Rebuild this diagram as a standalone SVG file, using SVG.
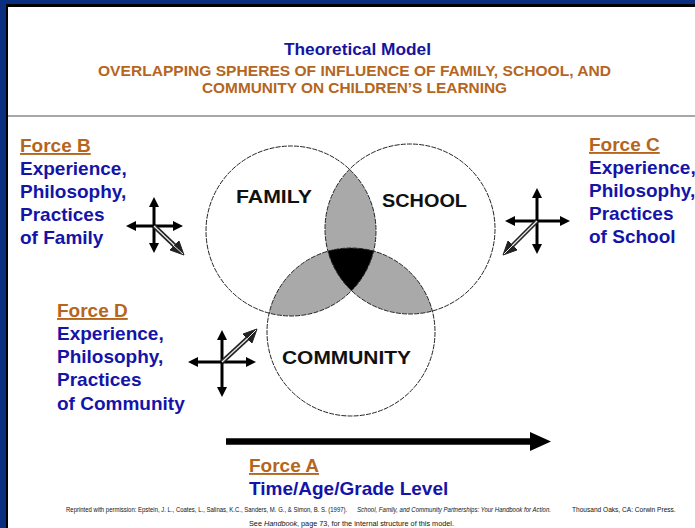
<svg xmlns="http://www.w3.org/2000/svg" width="695" height="528" viewBox="0 0 695 528">
<style>
.hd{font-family:"Liberation Sans",Arial,sans-serif;font-weight:bold}
.t1{font-size:17px;fill:#1414a0}
.t2{font-size:15px;fill:#b5661e}
.force{font-family:"Liberation Sans",Arial,sans-serif;font-weight:bold;font-size:19px;fill:#b5661e;text-decoration:underline}
.body{font-family:"Liberation Sans",Arial,sans-serif;font-weight:bold;font-size:19px;fill:#1414a8}
.lbl{font-family:"Liberation Sans",Arial,sans-serif;font-weight:bold;font-size:18px;fill:#111}
.ring{fill:none;stroke:#222;stroke-width:1;stroke-dasharray:5 1.2}
.cross{stroke:#000;stroke-width:3;fill:none;marker-start:url(#ah);marker-end:url(#ah)}
.diag{stroke:#222;stroke-width:4.5;fill:none}
.diagin{stroke:#e8e8e8;stroke-width:1.3;fill:none}
.foot{font-family:"Liberation Sans",Arial,sans-serif;font-size:7px;fill:#111}
.foot2{font-family:"Liberation Sans",Arial,sans-serif;font-size:7.3px;fill:#111}
.it{font-style:italic}
</style>
<defs>
<marker id="ah" viewBox="0 0 10 10" refX="3" refY="5" markerWidth="10" markerHeight="11" markerUnits="userSpaceOnUse" orient="auto-start-reverse">
<path d="M0,0 L10,5 L0,10 Z" fill="#000"/>
</marker>
<clipPath id="cF"><circle cx="291" cy="231" r="85"/></clipPath>
<clipPath id="cS"><circle cx="410" cy="229" r="85"/></clipPath>
<clipPath id="cC"><circle cx="351" cy="332" r="84"/></clipPath>
</defs>
<rect x="0" y="0" width="695" height="528" fill="#0b2f80"/>
<rect x="6" y="4" width="689" height="524" fill="#000"/>
<rect x="8" y="7" width="687" height="521" fill="#fff"/>
<line x1="8" y1="116" x2="695" y2="116" stroke="#8a8a8a" stroke-width="1.5"/>

<g id="title">
<text class="hd t1" x="357.5" y="55" text-anchor="middle" textLength="147" lengthAdjust="spacingAndGlyphs">Theoretical Model</text>
<text class="hd t2" x="354.5" y="76" text-anchor="middle" textLength="513" lengthAdjust="spacingAndGlyphs">OVERLAPPING SPHERES OF INFLUENCE OF FAMILY, SCHOOL, AND</text>
<text class="hd t2" x="354.5" y="93" text-anchor="middle" textLength="305" lengthAdjust="spacingAndGlyphs">COMMUNITY ON CHILDREN’S LEARNING</text>
</g>

<g id="spheres">
<g clip-path="url(#cF)"><circle cx="410" cy="229" r="85" fill="#a9a9a9"/><circle cx="351" cy="332" r="84" fill="#a9a9a9"/></g>
<g clip-path="url(#cS)"><circle cx="351" cy="332" r="84" fill="#a9a9a9"/></g>
<g clip-path="url(#cF)"><g clip-path="url(#cS)"><circle cx="351" cy="332" r="84" fill="#000"/></g></g>
</g>
<g id="family"><circle class="ring" cx="291" cy="231" r="85"/><text class="lbl" x="236" y="203" textLength="76" lengthAdjust="spacingAndGlyphs">FAMILY</text></g>
<g id="school"><circle class="ring" cx="410" cy="229" r="85"/><text class="lbl" x="382" y="207" textLength="85" lengthAdjust="spacingAndGlyphs">SCHOOL</text></g>
<g id="community"><circle class="ring" cx="351" cy="332" r="84"/><text class="lbl" x="282" y="364" textLength="129" lengthAdjust="spacingAndGlyphs">COMMUNITY</text></g>

<g id="forceB">
<text class="force" x="20" y="152">Force B</text>
<text class="body" x="20" y="175">Experience,</text>
<text class="body" x="20" y="198">Philosophy,</text>
<text class="body" x="20" y="221">Practices</text>
<text class="body" x="20" y="244">of Family</text>
</g>
<g id="forceC">
<text class="force" x="589" y="151">Force C</text>
<text class="body" x="589" y="174">Experience,</text>
<text class="body" x="589" y="197">Philosophy,</text>
<text class="body" x="589" y="220">Practices</text>
<text class="body" x="589" y="243">of School</text>
</g>
<g id="forceD">
<text class="force" x="57" y="317">Force D</text>
<text class="body" x="57" y="340">Experience,</text>
<text class="body" x="57" y="363">Philosophy,</text>
<text class="body" x="57" y="386">Practices</text>
<text class="body" x="57" y="410">of Community</text>
</g>
<g id="forceA">
<text class="force" x="249" y="472">Force A</text>
<text class="body" x="249" y="495">Time/Age/Grade Level</text>
</g>

<g id="connectors">
<line class="cross" x1="154" y1="204" x2="154" y2="246"/>
<line class="cross" x1="133" y1="226" x2="176" y2="226"/>
<line class="diag" x1="154" y1="226" x2="176" y2="247"/>
<line class="diagin" x1="154" y1="226" x2="176" y2="247"/>
<path d="M184,255 L170,250 L179,241 Z" fill="#222" stroke="#222" stroke-width="1"/>
<line x1="183" y1="254" x2="173" y2="245" stroke="#e8e8e8" stroke-width="1"/>
<line class="cross" x1="537" y1="195" x2="537" y2="247"/>
<line class="cross" x1="512" y1="221" x2="563" y2="221"/>
<line class="diag" x1="537" y1="221" x2="512" y2="246"/>
<line class="diagin" x1="537" y1="221" x2="512" y2="246"/>
<path d="M503,255 L508,241 L517,250 Z" fill="#222" stroke="#222" stroke-width="1"/>
<line x1="504" y1="254" x2="514" y2="244" stroke="#e8e8e8" stroke-width="1"/>
<line class="cross" x1="222" y1="337" x2="222" y2="390"/>
<line class="cross" x1="195" y1="362" x2="249" y2="362"/>
<line class="diag" x1="222" y1="362" x2="248" y2="338"/>
<line class="diagin" x1="222" y1="362" x2="248" y2="338"/>
<path d="M257,329 L252,343 L243,334 Z" fill="#222" stroke="#222" stroke-width="1"/>
<line x1="256" y1="330" x2="246" y2="340" stroke="#e8e8e8" stroke-width="1"/>
<line x1="226" y1="441.5" x2="532" y2="441.5" stroke="#000" stroke-width="6.5"/>
<path d="M530,432 L551,441.5 L530,451 Z" fill="#000"/>
</g>

<g id="footer">
<text class="foot" transform="translate(66,512) scale(0.855,1)">Reprinted with permission:  Epstein, J. L., Coates, L., Salinas, K.C., Sanders, M. G., &amp; Simon, B. S.  (1997).</text>
<text class="foot it" transform="translate(357,512) scale(0.865,1)">School, Family, and Community Partnerships:  Your Handbook for Action.</text>
<text class="foot" transform="translate(572,512) scale(0.94,1)">Thousand Oaks, CA:  Corwin Press.</text>
<text class="foot2" x="249" y="525.5">See</text>
<text class="foot2 it" x="264" y="525.5">Handbook</text>
<text class="foot2" x="297" y="525.5">, page 73, for the internal structure of this model.</text>
</g>
</svg>
